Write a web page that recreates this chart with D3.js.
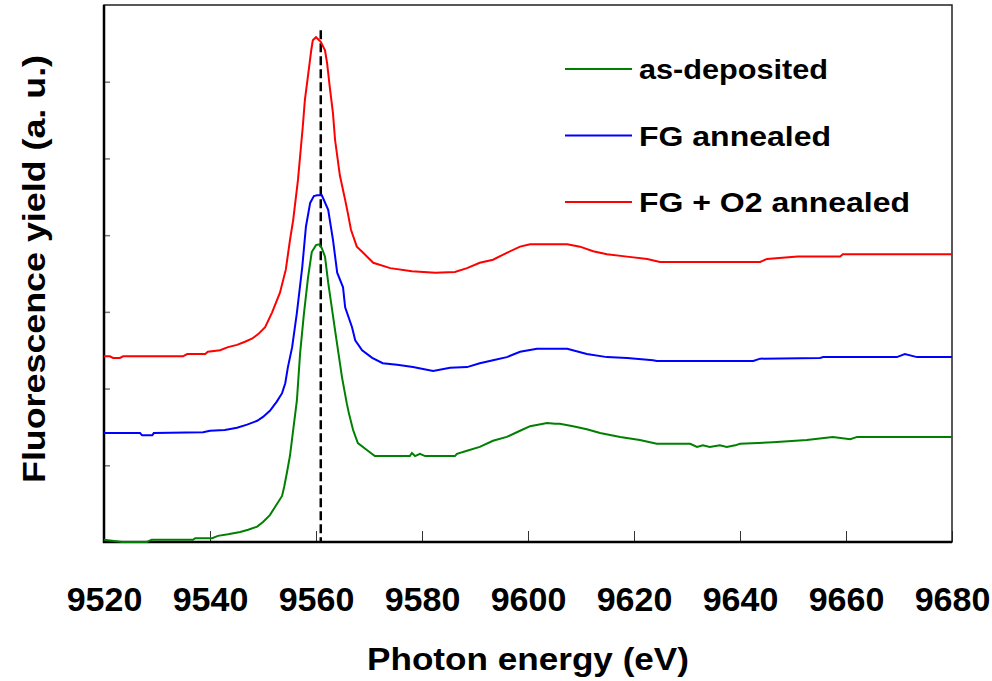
<!DOCTYPE html>
<meta charset="utf-8">
<script src="https://d3js.org/d3.v7.min.js"></script>
<style>
  body { margin: 0; background: #fff; }
  text { font-family: "Liberation Sans", Arial, sans-serif; font-weight: bold; }
</style>
<div id="chart"></div>
<script>

    // photon energy (eV) and fluorescence yield (arb. units, one unit = one y tick)
    var greenE = [9520.0, 9523.4, 9528.1, 9529.0, 9536.8, 9537.2, 9540.4, 9541.5, 9543.4, 9545.7, 9547.2, 9548.9, 9550.0, 9551.3, 9552.3, 9553.6, 9554.0, 9554.5, 9555.1, 9555.7, 9556.4, 9557.0, 9557.7, 9558.5, 9559.2, 9560.0, 9560.6, 9561.1, 9561.7, 9562.3, 9563.6, 9564.9, 9565.8, 9566.2, 9567.0, 9567.9, 9569.6, 9571.1, 9577.7, 9578.1, 9578.7, 9579.6, 9580.6, 9586.2, 9586.6, 9588.5, 9590.9, 9593.4, 9596.0, 9598.5, 9600.4, 9603.6, 9605.1, 9606.0, 9608.5, 9611.1, 9613.6, 9617.4, 9621.1, 9624.3, 9630.6, 9631.9, 9633.0, 9634.3, 9636.2, 9637.5, 9639.1, 9640.0, 9646.2, 9652.6, 9657.5, 9660.8, 9662.1, 9680.0];
    var greenY = [0.03, 0.00, 0.00, 0.03, 0.03, 0.05, 0.05, 0.08, 0.10, 0.13, 0.16, 0.20, 0.26, 0.35, 0.46, 0.60, 0.72, 0.90, 1.13, 1.46, 1.85, 2.46, 2.96, 3.45, 3.78, 3.87, 3.88, 3.83, 3.72, 3.38, 2.76, 2.15, 1.81, 1.68, 1.46, 1.29, 1.20, 1.12, 1.12, 1.16, 1.12, 1.15, 1.12, 1.12, 1.15, 1.19, 1.24, 1.32, 1.37, 1.45, 1.51, 1.55, 1.54, 1.54, 1.51, 1.47, 1.42, 1.37, 1.33, 1.28, 1.28, 1.24, 1.26, 1.24, 1.26, 1.24, 1.26, 1.28, 1.30, 1.33, 1.37, 1.34, 1.37, 1.37];

    var blueE = [9520.0, 9526.8, 9527.2, 9529.1, 9529.4, 9538.7, 9540.0, 9542.8, 9545.1, 9547.0, 9548.9, 9550.0, 9551.3, 9552.6, 9553.6, 9554.2, 9554.7, 9555.5, 9556.4, 9557.4, 9558.1, 9558.9, 9559.6, 9560.2, 9561.1, 9562.3, 9563.2, 9564.0, 9565.1, 9565.5, 9566.8, 9567.4, 9568.7, 9570.6, 9572.6, 9575.3, 9578.3, 9582.1, 9585.3, 9588.5, 9590.9, 9593.4, 9596.0, 9598.5, 9601.7, 9607.4, 9611.1, 9614.9, 9618.7, 9623.6, 9624.3, 9642.5, 9643.8, 9655.1, 9655.7, 9669.6, 9671.1, 9673.4, 9680.0];
    var blueY = [1.42, 1.42, 1.39, 1.39, 1.42, 1.43, 1.45, 1.46, 1.49, 1.53, 1.58, 1.63, 1.71, 1.83, 1.94, 2.07, 2.28, 2.54, 2.99, 3.58, 4.11, 4.42, 4.51, 4.52, 4.52, 4.33, 3.94, 3.51, 3.32, 3.06, 2.80, 2.63, 2.50, 2.40, 2.33, 2.31, 2.28, 2.23, 2.27, 2.28, 2.33, 2.37, 2.41, 2.48, 2.52, 2.52, 2.45, 2.41, 2.40, 2.37, 2.36, 2.36, 2.39, 2.40, 2.41, 2.41, 2.45, 2.41, 2.41];

    var redE = [9520.0, 9521.1, 9521.7, 9523.0, 9523.6, 9534.9, 9535.7, 9539.1, 9539.6, 9541.9, 9543.4, 9545.1, 9546.6, 9547.9, 9549.1, 9550.4, 9551.7, 9553.2, 9554.3, 9555.1, 9555.7, 9556.6, 9557.5, 9557.9, 9558.7, 9559.1, 9559.4, 9560.0, 9560.9, 9561.7, 9562.1, 9562.6, 9563.2, 9563.6, 9564.5, 9565.5, 9566.0, 9566.6, 9567.7, 9568.9, 9570.8, 9574.0, 9578.1, 9582.5, 9586.2, 9588.5, 9590.9, 9593.4, 9596.0, 9598.5, 9600.4, 9607.4, 9609.8, 9612.3, 9614.9, 9618.7, 9622.5, 9624.9, 9643.8, 9645.1, 9650.9, 9658.9, 9659.4, 9680.0];
    var redY = [2.42, 2.42, 2.40, 2.40, 2.42, 2.42, 2.45, 2.45, 2.48, 2.50, 2.54, 2.57, 2.61, 2.65, 2.71, 2.80, 2.99, 3.25, 3.55, 3.94, 4.20, 4.72, 5.41, 5.76, 6.19, 6.41, 6.54, 6.58, 6.52, 6.41, 6.24, 5.93, 5.59, 5.24, 4.78, 4.46, 4.29, 4.07, 3.85, 3.77, 3.64, 3.57, 3.53, 3.51, 3.52, 3.57, 3.64, 3.68, 3.77, 3.85, 3.88, 3.88, 3.85, 3.79, 3.75, 3.72, 3.69, 3.65, 3.65, 3.69, 3.72, 3.72, 3.75, 3.75];

    var seriesNames = ["as-deposited", "FG annealed", "FG + O2 annealed"];
    var seriesColors = ["#008000", "#0000ff", "#ff0000"];
    var xTicks = [9520, 9540, 9560, 9580, 9600, 9620, 9640, 9660, 9680];
    var peakE = 9560.9;

    var margin = { top: 5, right: 40, bottom: 139, left: 104 },
        width = 992 - margin.left - margin.right,
        height = 681 - margin.top - margin.bottom;

    var svg = d3.select("#chart")
        .append("svg")
        .attr("width", 992)
        .attr("height", 681)
        .append("g")
        .attr("transform", "translate(" + margin.left + "," + margin.top + ")");

    var x = d3.scaleLinear().domain([9520, 9680]).range([0, width]);
    var y = d3.scaleLinear().domain([0, 7]).range([height, 0]);

    // y ticks: short gray marks inside, no labels
    svg.append("g")
        .call(d3.axisRight(y).tickValues(d3.range(1, 7)).tickSize(6).tickFormat(""))
        .call(function (g) { g.select(".domain").remove(); })
        .selectAll("line").attr("stroke", "#777").attr("stroke-width", 1.5);

    // x axis ticks point up into the plot
    var xAxis = svg.append("g")
        .attr("transform", "translate(0," + height + ")")
        .call(d3.axisBottom(x).tickValues(xTicks).tickSizeInner(-11).tickSizeOuter(0).tickPadding(45).tickFormat(d3.format("d")));
    xAxis.select(".domain").remove();
    xAxis.selectAll("line").attr("stroke", "#333");
    xAxis.selectAll("text")
        .style("font-size", "34px")
        .attr("fill", "#000");

    // frame
    svg.append("rect")
        .attr("width", width).attr("height", height)
        .attr("fill", "none").attr("stroke", "#222").attr("stroke-width", 1.5);
    svg.append("path")
        .attr("d", "M0,0V" + height + "H" + width)
        .attr("fill", "none").attr("stroke", "#000").attr("stroke-width", 2.5);

    // dashed peak marker
    svg.append("line")
        .attr("x1", x(peakE)).attr("x2", x(peakE))
        .attr("y1", y(6.67)).attr("y2", y(0))
        .attr("stroke", "#000").attr("stroke-width", 2.5)
        .attr("stroke-dasharray", "9,4");

    var line = d3.line()
        .x(function (d) { return x(d[0]); })
        .y(function (d) { return y(d[1]); });

    var series = [d3.zip(greenE, greenY), d3.zip(blueE, blueY), d3.zip(redE, redY)];
    series.forEach(function (s, i) {
        svg.append("path")
            .datum(s)
            .attr("d", line)
            .attr("fill", "none")
            .attr("stroke", seriesColors[i])
            .attr("stroke-width", 2);
    });

    // legend (reference text is drawn a little wide, so stretch it)
    var legendWidths = [189, 192, 271];
    var legend = svg.append("g").attr("transform", "translate(461,64)");
    seriesNames.forEach(function (name, i) {
        var g = legend.append("g").attr("transform", "translate(0," + (i * 66.5) + ")");
        g.append("line").attr("x1", 0).attr("x2", 67)
            .attr("stroke", seriesColors[i]).attr("stroke-width", 2);
        g.append("text").attr("x", 74).attr("y", 10)
            .style("font-size", "28px")
            .attr("textLength", legendWidths[i])
            .attr("lengthAdjust", "spacingAndGlyphs")
            .text(name);
    });

    // axis titles
    svg.append("text")
        .attr("x", width / 2).attr("y", 665)
        .attr("text-anchor", "middle")
        .style("font-size", "31px")
        .attr("textLength", 322)
        .attr("lengthAdjust", "spacingAndGlyphs")
        .text("Photon energy (eV)");

    svg.append("text")
        .attr("transform", "translate(-59," + (269 - margin.top) + ") rotate(-90)")
        .attr("text-anchor", "middle")
        .style("font-size", "31px")
        .attr("textLength", 428)
        .attr("lengthAdjust", "spacingAndGlyphs")
        .text("Fluorescence yield (a. u.)");
</script>
